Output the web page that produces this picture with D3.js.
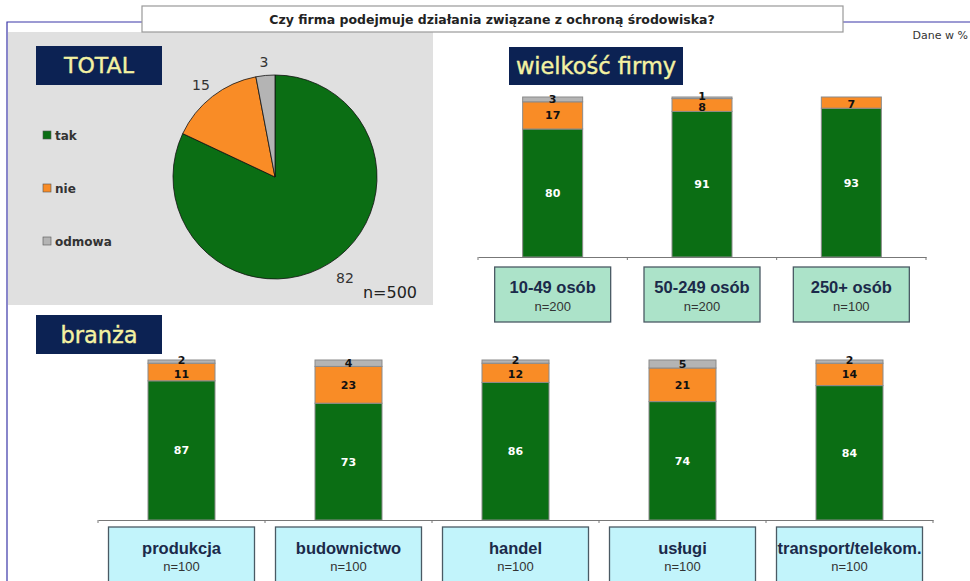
<!DOCTYPE html>
<html>
<head>
<meta charset="utf-8">
<script src="https://cdn.jsdelivr.net/npm/d3@7"></script>
<style>
body { margin: 0; background: #fff; }
svg { display: block; }
</style>
</head>
<body>
<div id="chart"></div>
<script>
// data
var title = "Czy firma podejmuje działania związane z ochroną środowiska?";
var answers = ["tak", "nie", "odmowa"];
var totalValues = [82, 15, 3];

var sizeCats = ["10-49 osób", "50-249 osób", "250+ osób"];
var sizeN = ["n=200", "n=200", "n=100"];
var sizeTak = [80, 91, 93];
var sizeNie = [17, 8, 7];
var sizeOdm = [3, 1, 0];

var branchCats = ["produkcja", "budownictwo", "handel", "usługi", "transport/telekom."];
var branchN = ["n=100", "n=100", "n=100", "n=100", "n=100"];
var branchTak = [87, 73, 86, 74, 84];
var branchNie = [11, 23, 12, 21, 14];
var branchOdm = [2, 4, 2, 5, 2];

var colors = ["#0b6e14", "#f98c26", "#b4b4b4"];
var navy = "#0c2253";

var W = 970, H = 581;
var svg = d3.select("#chart").append("svg")
  .attr("width", W)
  .attr("height", H);

// frame
svg.append("path")
  .attr("d", "M7,581 L7,22 L142,22 M843,22 L970,22")
  .attr("fill", "none")
  .attr("stroke", "#3a36a8")
  .attr("stroke-width", 1.2);

svg.append("rect")
  .attr("x", 8).attr("y", 32).attr("width", 425).attr("height", 273)
  .attr("fill", "#e0e0e0");

svg.append("rect")
  .attr("x", 142).attr("y", 6).attr("width", 701).attr("height", 26)
  .attr("fill", "#fff").attr("stroke", "#999").attr("stroke-width", 1.2);
svg.append("text")
  .attr("x", 492).attr("y", 23.5)
  .attr("text-anchor", "middle")
  .style("font", "bold 12.5px 'DejaVu Sans', sans-serif")
  .attr("fill", "#222")
  .text(title);

svg.append("text")
  .attr("x", 968).attr("y", 39)
  .attr("text-anchor", "end")
  .style("font", "11px 'DejaVu Sans', sans-serif")
  .attr("fill", "#333")
  .text("Dane w %");

function header(x, y, w, h, txt, size) {
  svg.append("rect")
    .attr("x", x).attr("y", y).attr("width", w).attr("height", h)
    .attr("fill", navy);
  svg.append("text")
    .attr("x", x + w / 2).attr("y", y + h / 2 + size * 0.36)
    .attr("text-anchor", "middle")
    .style("font", size + "px 'DejaVu Sans', sans-serif")
    .attr("fill", "#f4f2a2")
    .attr("stroke", "#f4f2a2").attr("stroke-width", 0.4)
    .text(txt);
}
header(36, 46, 126, 39, "TOTAL", 22);
header(509, 47, 174, 38, "wielkość firmy", 22.5);
header(36, 315, 126, 39, "branża", 22.5);

// legend
var leg = svg.selectAll(".leg")
  .data(answers)
  .enter().append("g")
  .attr("class", "leg")
  .attr("transform", function(d, i) { return "translate(43," + (131 + i * 53) + ")"; });
leg.append("rect")
  .attr("width", 8).attr("height", 8)
  .attr("fill", function(d, i) { return colors[i]; })
  .attr("stroke", "#555").attr("stroke-width", 0.6);
leg.append("text")
  .attr("x", 12).attr("y", 8.5)
  .style("font", "bold 12px 'DejaVu Sans', sans-serif")
  .attr("fill", "#333")
  .text(function(d) { return d; });

// pie
var pie = d3.pie().sort(null);
var arc = d3.arc().innerRadius(0).outerRadius(102);
var pieG = svg.append("g").attr("transform", "translate(275,177)");
pieG.selectAll("path")
  .data(pie(totalValues))
  .enter().append("path")
  .attr("d", arc)
  .attr("fill", function(d, i) { return colors[i]; })
  .attr("stroke", "#111").attr("stroke-width", 0.8);

var pieLabelPos = [[70, 106], [-74, -87], [-11, -110]];
pieG.selectAll(".plab")
  .data(totalValues)
  .enter().append("text")
  .attr("class", "plab")
  .attr("x", function(d, i) { return pieLabelPos[i][0]; })
  .attr("y", function(d, i) { return pieLabelPos[i][1]; })
  .attr("text-anchor", "middle")
  .style("font", "14px 'DejaVu Sans', sans-serif")
  .attr("fill", "#333")
  .text(function(d) { return d; });
svg.append("text")
  .attr("x", 390).attr("y", 298)
  .attr("text-anchor", "middle")
  .style("font", "16px 'DejaVu Sans', sans-serif")
  .attr("fill", "#222")
  .text("n=500");

// stacked bars
function drawBars(cats, nLabels, tak, nie, odm, opt) {
  var x = d3.scaleBand().domain(cats).range([opt.x0, opt.x1]);
  var y = d3.scaleLinear().domain([0, 100]).range([opt.base, opt.base - 160]);
  var g = svg.append("g");

  var rows = cats.map(function(c, i) { return { cat: c, tak: tak[i], nie: nie[i], odm: odm[i] }; });
  var stack = d3.stack().keys(["tak", "nie", "odm"])(rows);

  var layer = g.selectAll(".layer")
    .data(stack)
    .enter().append("g")
    .attr("fill", function(d, i) { return colors[i]; });
  layer.selectAll("rect")
    .data(function(d) { return d; })
    .enter().append("rect")
    .attr("x", function(d) { return x(d.data.cat) + (x.bandwidth() - opt.bw) / 2; })
    .attr("width", opt.bw)
    .attr("y", function(d) { return y(d[1]); })
    .attr("height", function(d) { return y(d[0]) - y(d[1]); })
    .attr("stroke", "#8a8a8a").attr("stroke-width", 1)
    .style("display", function(d) { return d[1] - d[0] > 0 ? null : "none"; });

  // small top segments get their label pushed up a little, like the original
  layer.selectAll("text")
    .data(function(d, i) { return d.map(function(p) { return { p: p, k: i }; }); })
    .enter().append("text")
    .filter(function(d) { return d.p[1] - d.p[0] > 0; })
    .attr("x", function(d) { return x(d.p.data.cat) + x.bandwidth() / 2; })
    .attr("y", function(d) {
      var mid = (y(d.p[0]) + y(d.p[1])) / 2 + 4;
      if (d.k === 2 && d.p[1] - d.p[0] < 3) mid -= 2;
      if (d.k === 1 && d.p[1] - d.p[0] < 13) mid += 1.5;
      return mid;
    })
    .attr("text-anchor", "middle")
    .style("font", "bold 11px 'DejaVu Sans', sans-serif")
    .attr("fill", function(d) { return d.k === 0 ? "#fff" : "#111"; })
    .text(function(d) { return d.p[1] - d.p[0]; });

  // axis
  var axis = d3.axisBottom(x).tickSize(0).tickFormat("");
  var ax = g.append("g")
    .attr("transform", "translate(0," + opt.base + ")")
    .call(axis);
  ax.select(".domain").attr("stroke", "#777").attr("stroke-width", 1.2);
  ax.selectAll(".sep")
    .data(d3.range(cats.length + 1))
    .enter().append("line")
    .attr("class", "sep")
    .attr("x1", function(i) { return opt.x0 + i * x.step(); })
    .attr("x2", function(i) { return opt.x0 + i * x.step(); })
    .attr("y1", 0).attr("y2", 3)
    .attr("stroke", "#777");

  // category boxes
  var box = g.selectAll(".cbox")
    .data(cats)
    .enter().append("g")
    .attr("class", "cbox")
    .attr("transform", function(d) { return "translate(" + (x(d) + x.bandwidth() / 2) + "," + opt.boxY + ")"; });
  box.append("rect")
    .attr("x", -opt.boxW / 2).attr("width", opt.boxW)
    .attr("height", opt.boxH)
    .attr("fill", opt.boxFill)
    .attr("stroke", "#4a5a64").attr("stroke-width", 1.3);
  box.append("text")
    .attr("y", opt.t1)
    .attr("text-anchor", "middle")
    .style("font", "bold 16.5px 'Liberation Sans', Arial, sans-serif")
    .attr("fill", "#1b2a4a")
    .text(function(d) { return d; });
  box.append("text")
    .attr("y", opt.t2)
    .attr("text-anchor", "middle")
    .style("font", "13px 'Liberation Sans', Arial, sans-serif")
    .attr("fill", "#333")
    .text(function(d, i) { return nLabels[i]; });
}

drawBars(sizeCats, sizeN, sizeTak, sizeNie, sizeOdm, {
  x0: 478, x1: 926, base: 257, bw: 60,
  boxY: 267, boxW: 116, boxH: 55, boxFill: "#ace3c9", t1: 26, t2: 44
});
drawBars(branchCats, branchN, branchTak, branchNie, branchOdm, {
  x0: 98, x1: 933, base: 520, bw: 67,
  boxY: 527, boxW: 146, boxH: 70, boxFill: "#c2f4fb", t1: 26.5, t2: 44
});
</script>
</body>
</html>
